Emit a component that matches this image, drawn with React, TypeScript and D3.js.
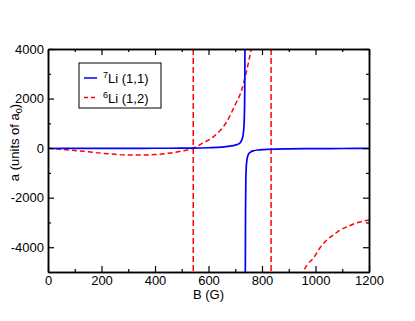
import React, { useEffect, useRef } from 'react'
import * as d3 from 'd3'

// 7Li (1,1): below the resonance (~737 G) and above it
const li7FieldLow = [0, 100, 200, 300, 400, 500, 544, 600, 650, 680, 700, 711, 720, 724, 728, 730, 732, 734, 735.5, 736.3, 736.8]
const li7ALow = [-15, -12, -10, -8, -6, -3, 0, 15, 40, 80, 120, 160, 240, 320, 450, 580, 800, 1250, 2300, 4000, 6000]
const li7FieldHigh = [737.2, 737.8, 738.5, 739.5, 741, 744, 749, 757, 767, 790, 830, 900, 1000, 1100, 1200]
const li7AHigh = [-6000, -4500, -2500, -1400, -800, -450, -250, -160, -110, -70, -45, -30, -20, -15, -10]

// 6Li (1,2): below and above the resonance at 834 G
const li6FieldLow = [0, 50, 100, 150, 200, 250, 300, 350, 400, 450, 500, 543, 575, 618, 668, 699, 724, 743, 759, 765]
const li6ALow = [0, -45, -95, -150, -205, -250, -278, -283, -260, -205, -120, 0, 180, 456, 1060, 1734, 2339, 3145, 3952, 4300]
const li6FieldHigh = [950, 955, 970, 992, 1015, 1042, 1070, 1092, 1120, 1142, 1170, 1200]
const li6AHigh = [-5200, -5000, -4700, -4448, -4050, -3710, -3480, -3306, -3170, -3065, -2970, -2903]

// dashed markers: zero crossing and resonance of 6Li
const li6Markers = [543, 834]

const xMajor = [0, 200, 400, 600, 800, 1000, 1200]
const xMinor = [100, 300, 500, 700, 900, 1100]
const yMajor = [-4000, -2000, 0, 2000, 4000]
const yMinor = [-3000, -1000, 1000, 3000]

const legendMass = ['7', '6']
const legendState = ['Li (1,1)', 'Li (1,2)']

const zip = (xs: number[], ys: number[]) => xs.map((b, i) => ({ b, a: ys[i] }))

export default function App() {
    const ref = useRef<SVGSVGElement>(null)

    useEffect(() => {
        const svgData = { width: 415, height: 321 }
        const margin = { top: 49, right: 46, bottom: 49, left: 48 }
        const w = svgData.width - margin.left - margin.right
        const h = svgData.height - margin.top - margin.bottom
        const font = '"Liberation Sans", Arial, Helvetica, sans-serif'

        const svg = d3.select(ref.current)
        svg.selectAll('*').remove()

        const x = d3.scaleLinear().domain([0, 1200]).range([0, w])
        const y = d3.scaleLinear().domain([-5000, 4000]).range([h, 0])

        svg.append('defs').append('clipPath').attr('id', 'plot-clip')
            .append('rect').attr('width', w).attr('height', h)

        const g = svg.append('g')
            .attr('transform', 'translate(' + margin.left + ',' + margin.top + ')')

        const plot = g.append('g').attr('clip-path', 'url(#plot-clip)')

        const line = d3.line<{ b: number, a: number }>()
            .x(d => x(d.b))
            .y(d => y(d.a))
            .curve(d3.curveMonotoneX)

        // red dashed 6Li
        const red = '#ff0000'
        ;[zip(li6FieldLow, li6ALow), zip(li6FieldHigh, li6AHigh)].forEach(pts => {
            plot.append('path')
                .datum(pts)
                .attr('d', line)
                .attr('fill', 'none')
                .attr('stroke', red)
                .attr('stroke-width', 1.5)
                .attr('stroke-dasharray', '5,3')
        })
        plot.selectAll('.marker')
            .data(li6Markers)
            .enter()
            .append('line')
            .attr('x1', d => x(d)).attr('x2', d => x(d))
            .attr('y1', y(4000)).attr('y2', y(-5000))
            .attr('stroke', red)
            .attr('stroke-width', 1.5)
            .attr('stroke-dasharray', '6,3')

        // blue solid 7Li
        ;[zip(li7FieldLow, li7ALow), zip(li7FieldHigh, li7AHigh)].forEach(pts => {
            plot.append('path')
                .datum(pts)
                .attr('d', line)
                .attr('fill', 'none')
                .attr('stroke', '#0000ff')
                .attr('stroke-width', 1.7)
        })

        // axes, ticks pointing inwards on all four sides
        const styleAxis = (sel: any) => {
            sel.select('.domain').attr('stroke', '#000').attr('stroke-width', 1.5)
            sel.selectAll('.tick line').attr('stroke', '#000').attr('stroke-width', 1.2)
            sel.selectAll('text').attr('font-family', font).attr('font-size', 13).attr('fill', '#000')
        }
        const plain = (d: any) => String(d)
        const none = () => ''

        g.append('g').attr('transform', 'translate(0,' + h + ')')
            .call(d3.axisBottom(x).tickValues(xMajor).tickSizeInner(-6).tickSizeOuter(0).tickPadding(4).tickFormat(plain))
            .call(styleAxis)
        g.append('g').attr('transform', 'translate(0,' + h + ')')
            .call(d3.axisBottom(x).tickValues(xMinor).tickSizeInner(-3).tickSizeOuter(0).tickFormat(none))
            .call(styleAxis)
        g.append('g')
            .call(d3.axisTop(x).tickValues(xMajor).tickSizeInner(-6).tickSizeOuter(0).tickFormat(none))
            .call(styleAxis)
        g.append('g')
            .call(d3.axisTop(x).tickValues(xMinor).tickSizeInner(-3).tickSizeOuter(0).tickFormat(none))
            .call(styleAxis)

        g.append('g')
            .call(d3.axisLeft(y).tickValues(yMajor).tickSizeInner(-6).tickSizeOuter(0).tickPadding(4).tickFormat(plain))
            .call(styleAxis)
        g.append('g')
            .call(d3.axisLeft(y).tickValues(yMinor).tickSizeInner(-3).tickSizeOuter(0).tickFormat(none))
            .call(styleAxis)
        g.append('g').attr('transform', 'translate(' + w + ',0)')
            .call(d3.axisRight(y).tickValues(yMajor).tickSizeInner(-6).tickSizeOuter(0).tickFormat(none))
            .call(styleAxis)
        g.append('g').attr('transform', 'translate(' + w + ',0)')
            .call(d3.axisRight(y).tickValues(yMinor).tickSizeInner(-3).tickSizeOuter(0).tickFormat(none))
            .call(styleAxis)

        // axis titles
        svg.append('text')
            .attr('x', margin.left + w / 2)
            .attr('y', 299)
            .attr('text-anchor', 'middle')
            .attr('font-family', font)
            .attr('font-size', 13)
            .text('B (G)')

        const yTitle = svg.append('text')
            .attr('transform', 'translate(19,142.5) rotate(-90)')
            .attr('text-anchor', 'middle')
            .attr('font-family', font)
            .attr('font-size', 13)
        yTitle.append('tspan').text('a (units of a')
        yTitle.append('tspan').attr('font-size', 9).attr('dy', 3).text('0')
        yTitle.append('tspan').attr('dy', -3).text(')')

        // legend
        const legend = svg.append('g')
        legend.append('rect')
            .attr('x', 79).attr('y', 63).attr('width', 82).attr('height', 45)
            .attr('fill', '#fff').attr('stroke', '#000').attr('stroke-width', 1)
        legendMass.forEach((m, i) => {
            const ly = 78 + i * 19.5
            legend.append('line')
                .attr('x1', 84).attr('x2', 97).attr('y1', ly).attr('y2', ly)
                .attr('stroke', i === 0 ? '#0000ff' : red)
                .attr('stroke-width', 1.5)
                .attr('stroke-dasharray', i === 0 ? null : '4,3')
            const t = legend.append('text')
                .attr('x', 103).attr('y', ly + 5)
                .attr('font-family', font)
                .attr('font-size', 13)
            t.append('tspan').attr('font-size', 9).attr('dy', -5).text(m)
            t.append('tspan').attr('dy', 5).text(legendState[i])
        })
    }, [])

    return (
        <svg ref={ref} width={415} height={321}
            style={{ position: 'absolute', left: 0, top: 0, background: '#fff' }} />
    )
}
